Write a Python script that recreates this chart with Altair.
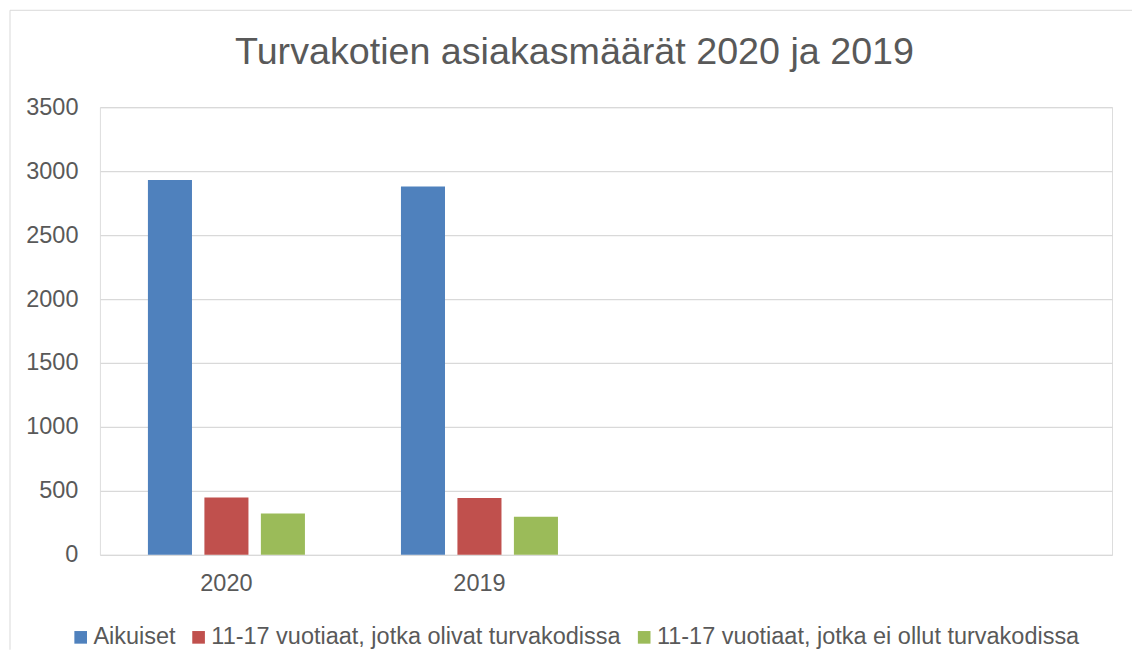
import altair as alt
import pandas as pd

years = ["2020", "2019"]
series = [
    "Aikuiset",
    "11-17 vuotiaat, jotka olivat turvakodissa",
    "11-17 vuotiaat, jotka ei ollut turvakodissa",
]
aikuiset = [2931, 2879]
olivat = [449, 444]
ei_ollut = [322, 298]
colors = ["#4F81BD", "#C0504D", "#9BBB59"]
x_domain = ["2020", "2019", " ", "  "]
y_ticks = [0, 500, 1000, 1500, 2000, 2500, 3000, 3500]

rows = []
for s, vals in zip(series, [aikuiset, olivat, ei_ollut]):
    for y, v in zip(years, vals):
        rows.append({"Vuosi": y, "Sarja": s, "Arvo": v})
df = pd.DataFrame(rows)

FONT = "Liberation Sans"
TXT = "#595959"
W, H = 1013, 448

bars = alt.Chart(df).mark_bar().encode(
    x=alt.X("Vuosi:N", scale=alt.Scale(domain=x_domain, paddingInner=0, paddingOuter=0),
            axis=alt.Axis(title=None, labelAngle=0, domain=False, ticks=False, grid=False,
                          labelFontSize=23.5, labelColor=TXT, labelFont=FONT, labelPadding=17)),
    xOffset=alt.XOffset("Sarja:N", sort=series,
                        scale=alt.Scale(domain=series, paddingInner=0.22, paddingOuter=0.85)),
    y=alt.Y("Arvo:Q", scale=alt.Scale(domain=[0, 3500], nice=False),
            axis=alt.Axis(title=None, values=y_ticks, format="d", domain=False, ticks=False,
                          gridColor="#D9D9D9", gridWidth=1.3, labelFontSize=23.5,
                          labelColor=TXT, labelFont=FONT, labelPadding=22)),
    color=alt.Color("Sarja:N", sort=series,
                    scale=alt.Scale(domain=series, range=colors),
                    legend=alt.Legend(title=None, orient="none", legendX=-31, legendY=518.5,
                                      direction="horizontal", columns=3,
                                      symbolType="square", symbolSize=160, symbolStrokeWidth=0,
                                      labelFontSize=23.5, labelColor=TXT, labelFont=FONT,
                                      labelLimit=700, labelOffset=1, columnPadding=11,
                                      padding=0)),
)

one = pd.DataFrame({"f": [0]})
frame_left = alt.Chart(one).mark_rule(color="#D9D9D9", strokeWidth=1).encode(
    x=alt.value(-90), y=alt.value(-97), y2=alt.value(H + 95)
)
frame_top = alt.Chart(one).mark_rule(color="#D9D9D9", strokeWidth=1).encode(
    x=alt.value(-90), x2=alt.value(W + 20), y=alt.value(-97)
)

chart = alt.layer(frame_left, frame_top, bars).properties(
    width=W, height=H,
    padding={"left": 1, "top": 1, "right": 0, "bottom": 0},
    title=alt.TitleParams(
        "Turvakotien asiakasmäärät 2020 ja 2019",
        fontSize=37.7, font=FONT, color=TXT, fontWeight="normal",
        anchor="middle", frame="group", dx=-31.5, baseline="alphabetic", offset=-91.5,
    ),
).configure_view(stroke=None).configure(background="white")

chart.save("out.html", embed_options={"renderer": "svg", "actions": False})
